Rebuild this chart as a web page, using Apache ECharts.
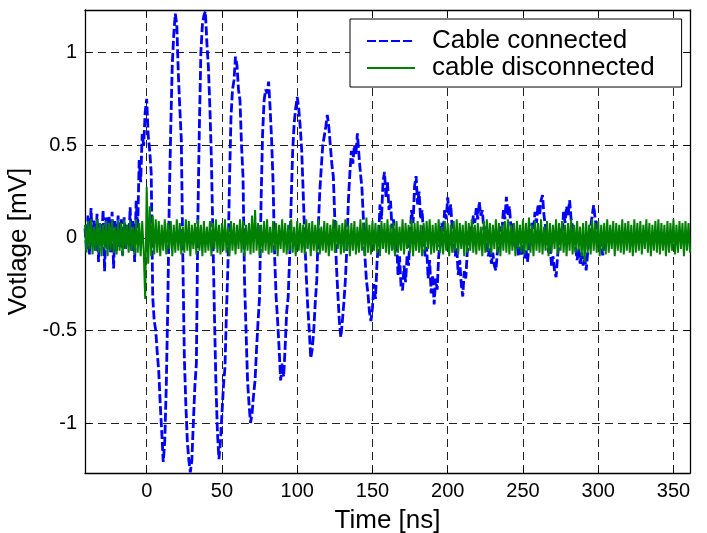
<!DOCTYPE html>
<html>
<head>
<meta charset="utf-8">
<script src="https://cdn.jsdelivr.net/npm/echarts@6/dist/echarts.min.js"></script>
<style>html,body{margin:0;padding:0;background:#fff}#c{width:707px;height:533px}</style>
</head>
<body>
<div id="c"></div>
<script>
// ---- data ----
const xTicks = [0, 50, 100, 150, 200, 250, 300, 350];
const yTicks = [-1, -0.5, 0, 0.5, 1];
const xMin = -41, xMax = 361;
const yMin = -1.27, yMax = 1.23;
const seriesNames = ['Cable connected', 'cable disconnected'];

// Cable connected: samples every 1 ns starting at -41 ns
const connectedStart = -41, connectedStep = 1;
const connectedValues = [
 0.05,-0.06,0.12,-0.09,0.16,-0.04,0.10,-0.07,0.13,-0.13,0.08,-0.05,0.15,-0.18,0.11,-0.06,0.12,-0.08,0.14,-0.165,
 0.09,-0.07,0.12,-0.05,0.10,-0.095,0.11,-0.06,0.07,-0.04,0.165,-0.07,0.09,-0.13,
 0.2,0.05,0.42,0.3,0.56,0.5,0.68,0.75,0.55,0.47,0.35,-0.32,-0.45,-0.5,-0.62,-0.72,-0.9,-1.05,-1.21,-1.1,-0.8,-0.37,
 0.2,0.6,0.94,1.1,1.21,1.15,0.89,0.7,0.53,-0.1,-0.64,-0.9,-1.1,-1.2,-1.267,-1.2,-1.0,-0.8,-0.68,
 0.1,0.6,1.0,1.15,1.2,1.222,1.05,0.92,0.7,0.42,0.0,-0.41,-0.79,-1.05,-1.195,-1.1,-0.95,-0.8,-0.7,-0.4,-0.14,
 0.3,0.65,0.8,0.85,0.978,0.93,0.8,0.74,0.5,0.33,-0.23,-0.5,-0.77,-0.9,-1.0,-0.95,-0.85,-0.77,-0.6,-0.45,-0.32,
 0.2,0.56,0.74,0.8,0.78,0.843,0.7,0.53,0.29,-0.1,-0.32,-0.45,-0.6,-0.77,-0.68,-0.75,-0.59,-0.4,-0.32,-0.1,
 0.2,0.47,0.62,0.7,0.76,0.7,0.6,0.47,0.24,0.0,-0.2,-0.37,-0.5,-0.65,-0.6,-0.5,-0.35,-0.23,
 0.05,0.25,0.38,0.5,0.55,0.6,0.663,0.6,0.5,0.4,0.33,0.1,-0.14,-0.3,-0.45,-0.537,-0.45,-0.35,-0.23,-0.05,
 0.2,0.35,0.47,0.4,0.5,0.45,0.564,0.45,0.35,0.27,0.1,-0.1,-0.23,-0.3,-0.4,-0.45,
 -0.38,-0.25,-0.33,-0.14,-0.02,0.18,0.1,0.3,0.356,0.22,0.3,0.15,0.2,0.05,0.1,-0.08,-0.02,-0.2,-0.1,-0.26,
 -0.284,-0.15,-0.24,-0.1,-0.15,0.02,0.15,0.08,0.28,0.333,0.18,0.25,0.1,0.15,0.0,-0.1,-0.05,-0.22,-0.12,-0.3,
 -0.2,-0.36,-0.22,-0.28,-0.1,-0.02,0.08,0.03,0.15,0.1,0.218,0.12,0.18,0.05,0.02,-0.1,-0.05,-0.2,-0.12,-0.25,
 -0.317,-0.18,-0.22,-0.08,-0.02,0.06,0.02,0.12,0.08,0.16,0.1,0.194,0.12,0.15,0.04,0.06,-0.04,-0.1,-0.05,-0.14,
 -0.08,-0.15,-0.176,-0.08,-0.03,0.06,0.03,0.15,0.1,0.221,0.12,0.17,0.06,0.08,-0.02,-0.06,-0.02,-0.1,-0.05,-0.09,
 -0.04,-0.11,-0.06,-0.131,-0.05,0.02,0.08,0.04,0.14,0.08,0.18,0.12,0.2,0.23,0.12,0.06,-0.02,-0.08,-0.04,-0.15,
 -0.1,-0.18,-0.212,-0.1,-0.03,0.05,0.02,0.14,0.08,0.17,0.12,0.203,0.1,0.06,0.0,-0.06,-0.12,-0.06,-0.14,-0.08,
 -0.15,-0.1,-0.176,-0.08,0.0,0.06,0.12,0.176,0.1,0.05,0.0,-0.05,-0.03,-0.095,-0.03,0.02
];

// Cable disconnected: samples every 1 ns starting at -41 ns
const disconnectedStart = -41, disconnectedStep = 1;
const disconnectedValues = [
 0.07,-0.08,0.09,-0.06,0.1,-0.09,0.06,-0.07,0.1,-0.08,0.08,-0.1,0.07,-0.06,0.09,-0.1,0.08,-0.07,0.1,-0.08,
 0.06,-0.09,0.09,-0.07,0.08,-0.1,0.1,-0.06,0.07,-0.08,0.09,-0.07,0.06,-0.09,0.1,-0.08,0.08,-0.1,0.09,-0.07,
 -0.33,0.275,-0.14,0.17,-0.1,0.12,-0.09,0.1,-0.08,0.09,-0.1,0.07,-0.07,0.1,-0.09,0.08,-0.06,0.09,-0.1,0.07,
 -0.08,0.1,-0.07,0.08,-0.09,0.06,-0.08,0.1,-0.07,0.09,-0.1,0.07,-0.06,0.08,-0.09,0.1,-0.07,0.07,-0.1,0.09,
 -0.08,0.06,-0.07,0.09,-0.1,0.08,-0.06,0.1,-0.08,0.07,-0.09,0.08,-0.07,0.1,-0.08,0.06,-0.1,0.09,-0.07,0.08,
 -0.09,0.07,-0.06,0.1,-0.08,0.09,-0.1,0.07,-0.07,0.08,-0.09,0.12,-0.08,0.15,-0.07,0.08,-0.1,0.07,-0.08,0.09,
 -0.07,0.1,-0.09,0.06,-0.08,0.09,-0.07,0.08,-0.1,0.07,-0.06,0.1,-0.08,0.08,-0.09,0.07,-0.07,0.1,-0.08,0.06,
 -0.1,0.09,-0.07,0.08,-0.08,0.07,-0.09,0.1,-0.06,0.08,-0.1,0.09,-0.07,0.07,-0.08,0.1,-0.09,0.06,-0.07,0.09,
 -0.08,0.08,-0.1,0.07,-0.07,0.1,-0.08,0.09,-0.06,0.07,-0.09,0.08,-0.08,0.1,-0.07,0.07,-0.1,0.08,-0.07,0.09,
 -0.09,0.06,-0.08,0.1,-0.07,0.08,-0.1,0.11,-0.08,0.07,-0.09,0.09,-0.07,0.08,-0.08,0.07,-0.1,0.09,-0.06,0.08,
 -0.08,0.1,-0.09,0.07,-0.07,0.08,-0.1,0.09,-0.08,0.06,-0.07,0.1,-0.09,0.08,-0.06,0.07,-0.08,0.1,-0.1,0.08,
 -0.07,0.09,-0.08,0.07,-0.1,0.08,-0.07,0.09,-0.06,0.1,-0.09,0.07,-0.08,0.08,-0.07,0.1,-0.08,0.06,-0.09,0.09,
 -0.07,0.08,-0.1,0.07,-0.08,0.09,-0.07,0.1,-0.09,0.08,-0.06,0.07,-0.1,0.09,-0.08,0.08,-0.07,0.1,-0.08,0.07,
 -0.09,0.08,-0.07,0.06,-0.1,0.09,-0.08,0.1,-0.07,0.08,-0.09,0.07,-0.06,0.1,-0.08,0.08,-0.1,0.07,-0.07,0.09,
 -0.08,0.1,-0.09,0.07,-0.07,0.08,-0.1,0.09,-0.06,0.07,-0.08,0.1,-0.09,0.08,-0.07,0.11,-0.08,0.07,-0.1,0.09,
 -0.07,0.08,-0.08,0.1,-0.09,0.06,-0.07,0.09,-0.1,0.08,-0.08,0.07,-0.06,0.1,-0.09,0.08,-0.07,0.09,-0.08,0.07,
 -0.1,0.08,-0.07,0.1,-0.09,0.07,-0.08,0.09,-0.07,0.06,-0.1,0.08,-0.13,0.09,-0.08,0.07,-0.09,0.1,-0.07,0.08,
 -0.08,0.09,-0.1,0.07,-0.07,0.08,-0.09,0.1,-0.08,0.07,-0.06,0.09,-0.1,0.08,-0.07,0.07,-0.08,0.1,-0.09,0.08,
 -0.07,0.09,-0.08,0.07,-0.1,0.1,-0.08,0.08,-0.07,0.09,-0.09,0.07,-0.06,0.1,-0.08,0.08,-0.1,0.07,-0.07,0.09,
 -0.08,0.1,-0.09,0.08,-0.07,0.07,-0.1,0.09,-0.08,0.08,-0.07,0.1,-0.09,0.07,-0.08,0.09,-0.06,0.08,-0.1,0.09,
 -0.07,0.08,-0.08
];

// ---- build ----
function toPairs(start, step, vals) {
  return vals.map((v, i) => [start + i * step, v]);
}
const FONT = '"Liberation Sans", Arial, Helvetica, sans-serif';
const gridLine = { show: true, lineStyle: { color: '#222', width: 1, type: [8, 5] } };

const chart = echarts.init(document.getElementById('c'), null, { renderer: 'canvas' });
chart.setOption({
  animation: false,
  backgroundColor: '#fff',
  grid: { left: 85, top: 10, right: 17, bottom: 60, containLabel: false, outerBoundsMode: 'none' },
  legend: {
    data: seriesNames,
    orient: 'vertical',
    left: 350, top: 19,
    padding: [9, 27, 6, 16],
    itemGap: 1,
    itemWidth: 48, itemHeight: 14,
    backgroundColor: '#fff',
    borderColor: '#000', borderWidth: 1,
    itemStyle: { opacity: 0 },
    textStyle: { fontFamily: FONT, fontSize: 26, color: '#000', lineHeight: 26, padding: [0, 0, 0, 12] }
  },
  xAxis: [{
    type: 'value', min: xMin, max: xMax, position: 'bottom',
    name: 'Time [ns]', nameLocation: 'middle', nameGap: 35,
    nameTextStyle: { fontFamily: FONT, fontSize: 26, color: '#000' },
    axisLine: { show: true, onZero: false, lineStyle: { color: '#000', width: 1.3 } },
    axisTick: { show: true, inside: true, length: 6, customValues: xTicks, lineStyle: { color: '#000' } },
    axisLabel: { customValues: xTicks, fontFamily: FONT, fontSize: 20, color: '#000', margin: 8 },
    splitLine: gridLine
  }, {
    type: 'value', min: xMin, max: xMax, position: 'top',
    axisLine: { show: true, onZero: false, lineStyle: { color: '#000', width: 1.3 } },
    axisTick: { show: true, inside: true, length: 6, customValues: xTicks, lineStyle: { color: '#000' } },
    axisLabel: { show: false },
    splitLine: { show: false }
  }],
  yAxis: [{
    type: 'value', min: yMin, max: yMax, position: 'left',
    name: 'Votlage [mV]', nameLocation: 'middle', nameGap: 46,
    nameTextStyle: { fontFamily: FONT, fontSize: 26, color: '#000' },
    axisLine: { show: true, onZero: false, lineStyle: { color: '#000', width: 1.3 } },
    axisTick: { show: true, inside: true, length: 6, customValues: yTicks, lineStyle: { color: '#000' } },
    axisLabel: { customValues: yTicks, fontFamily: FONT, fontSize: 20, color: '#000', margin: 8 },
    splitLine: gridLine
  }, {
    type: 'value', min: yMin, max: yMax, position: 'right',
    axisLine: { show: true, onZero: false, lineStyle: { color: '#000', width: 1.3 } },
    axisTick: { show: true, inside: true, length: 6, customValues: yTicks, lineStyle: { color: '#000' } },
    axisLabel: { show: false },
    splitLine: { show: false }
  }],
  series: [{
    name: seriesNames[0], type: 'line', xAxisIndex: 0, yAxisIndex: 0,
    data: toPairs(connectedStart, connectedStep, connectedValues),
    showSymbol: false, symbol: 'none', sampling: null,
    lineStyle: { color: '#0000ff', width: 2.8, type: [9, 3] },
    itemStyle: { color: '#0000ff' }
  }, {
    name: seriesNames[1], type: 'line', xAxisIndex: 0, yAxisIndex: 0,
    data: toPairs(disconnectedStart, disconnectedStep, disconnectedValues),
    showSymbol: false, symbol: 'none', sampling: null,
    lineStyle: { color: '#008000', width: 2 },
    itemStyle: { color: '#008000' }
  }]
});
</script>
</body>
</html>
